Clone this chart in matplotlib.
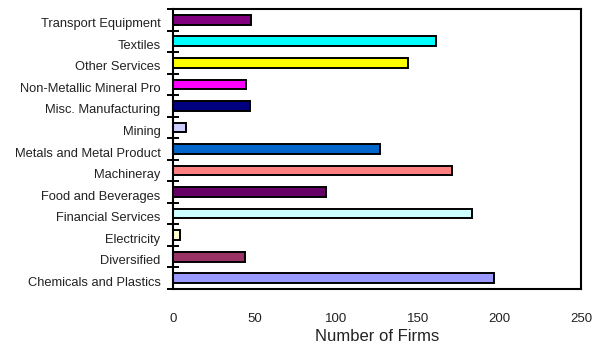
import matplotlib
matplotlib.use('Agg')
import numpy as np
import matplotlib.pyplot as plt
import matplotlib.transforms as mtrans

plt.rcParams['font.family'] = ['Liberation Sans Narrow', 'Liberation Sans', 'DejaVu Sans']

sectors = ['Chemicals and Plastics', 'Diversified', 'Electricity', 'Financial Services',
           'Food and Beverages', 'Machineray', 'Metals and Metal Product', 'Mining',
           'Misc. Manufacturing', 'Non-Metallic Mineral Pro', 'Other Services',
           'Textiles', 'Transport Equipment']
firms = [197, 44, 4, 183, 94, 171, 127, 8, 47, 45, 144, 161, 48]
colors = ['#9999FF', '#993366', '#FFFFCC', '#CCFFFF', '#660066', '#FF8080', '#0066CC',
          '#CCCCFF', '#000080', '#FF00FF', '#FFFF00', '#00FFFF', '#800080']
xticks = [0, 50, 100, 150, 200, 250]

fig = plt.figure(figsize=(5.92, 3.56), dpi=100)
ax = fig.add_axes([0.2922, 0.1882, 0.6892, 0.7865])

y = np.arange(len(sectors))
ax.barh(y, firms, height=0.45, color=colors, edgecolor='black', linewidth=1.4)

ax.set_xlim(0, 250)
ax.set_ylim(-0.5, len(sectors) - 0.5)

# tick marks between categories, labels centred on the bars
ax.set_yticks(np.arange(-0.5, len(sectors), 1.0))
ax.set_yticklabels([])
ax.tick_params(axis='y', which='major', direction='inout', length=9, width=1.4)
ax.set_yticks(y, minor=True)
ax.set_yticklabels(sectors, minor=True, fontsize=9.3, color='#222222')
ax.tick_params(axis='y', which='minor', length=0, pad=9)
offset = mtrans.ScaledTranslation(0, -3 / 100, fig.dpi_scale_trans)
for lbl in ax.yaxis.get_minorticklabels():
    lbl.set_transform(lbl.get_transform() + offset)

ax.set_xticks(xticks)
ax.set_xticklabels([str(v) for v in xticks], fontsize=9.5, color='#222222')
ax.tick_params(axis='x', length=0, pad=17)
ax.set_xlabel('Number of Firms', fontsize=12, color='#222222', labelpad=3)

for s in ax.spines.values():
    s.set_linewidth(1.5)

fig.savefig('out.png', dpi=100)
